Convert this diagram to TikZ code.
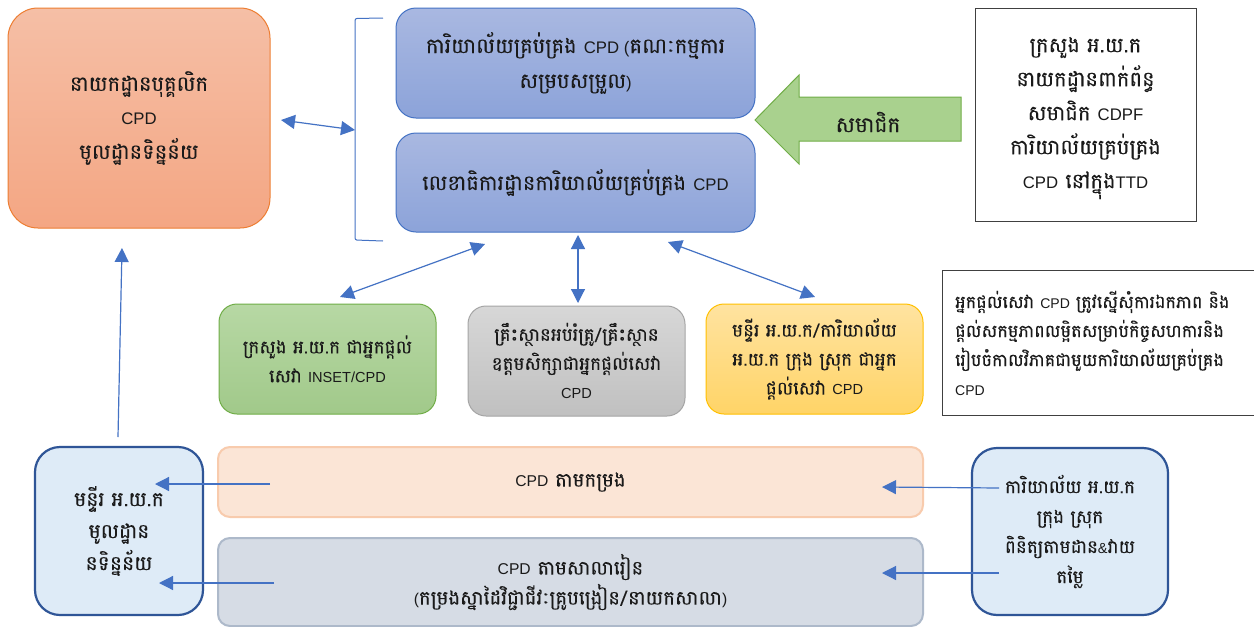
\documentclass[tikz,border=0pt]{standalone}
\usepackage{fontspec}
\setmainfont{Liberation Sans}
\newfontfamily\kh[Script=Khmer,Scale=1.36,FakeBold=0.2]{Battambang}
\newfontfamily\latinfont[Scale=1.08]{Liberation Sans}
\newcommand\La[1]{{\latinfont #1}}
\usetikzlibrary{arrows.meta}
\definecolor{ablue}{HTML}{4472C4}
\definecolor{dblue}{HTML}{2F5597}
\definecolor{lblue}{HTML}{DEEBF7}
\definecolor{orgT}{HTML}{F5BFA6}
\definecolor{orgB}{HTML}{F4A683}
\definecolor{orgD}{HTML}{ED7D31}
\definecolor{bluT}{HTML}{A9B8E1}
\definecolor{bluB}{HTML}{8CA3D9}
\definecolor{grnT}{HTML}{B7D8A4}
\definecolor{grnB}{HTML}{A1C98A}
\definecolor{grnD}{HTML}{70AD47}
\definecolor{gryT}{HTML}{D7D7D7}
\definecolor{gryB}{HTML}{C0C0C0}
\definecolor{gryD}{HTML}{A5A5A5}
\definecolor{ylwT}{HTML}{FFE3A0}
\definecolor{ylwB}{HTML}{FFD467}
\definecolor{ylwD}{HTML}{FFC000}
\definecolor{arrG}{HTML}{A9D18E}
\definecolor{bar1}{HTML}{FBE5D6}
\definecolor{bar1D}{HTML}{F8CBAD}
\definecolor{bar2}{HTML}{D6DCE5}
\definecolor{bar2D}{HTML}{ADB9CA}
\definecolor{txt}{HTML}{1A1A1A}
\tikzset{
  base/.style={align=center, inner sep=0pt, text=txt},
  orangebox/.style={base, rounded corners=30pt, draw=orgD, line width=1pt, top color=orgT, bottom color=orgB, minimum width=262pt, minimum height=220pt, font=\kh\fontsize{15.5}{34}\selectfont},
  bluebox/.style={base, rounded corners=20pt, draw=ablue, line width=1pt, top color=bluT, bottom color=bluB, minimum width=359pt, font=\kh\fontsize{15.5}{35}\selectfont},
  midbox/.style={base, rounded corners=18pt, line width=1pt, minimum width=217pt, minimum height=110pt, font=\kh\fontsize{13.5}{29}\selectfont},
  plainbox/.style={base, draw=black!75, line width=0.8pt, fill=white},
  lbbox/.style={base, rounded corners=25pt, draw=dblue, line width=2.2pt, fill=lblue, font=\kh\fontsize{15}{32}\selectfont},
  barbox/.style={base, rounded corners=12pt, line width=2pt, minimum width=705pt, font=\kh\fontsize{14.5}{30}\selectfont},
  arr/.style={draw=ablue, line width=1.2pt, -{Triangle[length=14pt,width=14pt]}},
  darr/.style={draw=ablue, line width=1.2pt, {Triangle[length=14pt,width=14pt]}-{Triangle[length=14pt,width=14pt]}},
}
\begin{document}
\begin{tikzpicture}[x=1pt,y=-1pt]
\useasboundingbox (0,0) rectangle (1254,627);
\fill[white] (0,0) rectangle (1254,627);

% top left
\node[orangebox] (hr) at (139,118) {នាយកដ្ឋានបុគ្គលិក\\\La{CPD}\\មូលដ្ឋានទិន្នន័យ};

% top blue boxes
\node[bluebox, minimum height=110pt] (office) at (575.5,63) {ការិយាល័យគ្រប់គ្រង \La{CPD (}គណៈកម្មការ\\សម្របសម្រួល\La{)}};
\node[bluebox, minimum height=99pt] (secr) at (575.5,182.5) {លេខាធិការដ្ឋានការិយាល័យគ្រប់គ្រង \La{CPD}};

% bracket
\coordinate (brT) at (383,18);
\coordinate (brB) at (383,241);
\coordinate (brM) at (355,130);
\coordinate (hrE) at (281,120);
\draw[ablue, line width=1pt, rounded corners=2pt] (brT) -- (355,18.5) -- (355,240) -- (brB);
\draw[darr] (hrE) -- (brM);

% green block arrow
\filldraw[fill=arrG, draw=grnD, line width=1pt] (755,120) -- (799,75) -- (799,97) -- (961,97) -- (961,141) -- (799,141) -- (799,164) -- cycle;
\node[base, font=\kh\fontsize{16}{20}\selectfont] (memb) at (868,122) {សមាជិក};

% top right box
\node[plainbox, minimum width=221pt, minimum height=213pt] (ttd) at (1085.5,115) {};
\node[base, font=\kh\fontsize{15.5}{34}\selectfont] (ttdtxt) at (1085.5,118) {ក្រសួង អ.យ.ក\\នាយកដ្ឋានពាក់ព័ន្ធ\\សមាជិក \La{CDPF}\\ការិយាល័យគ្រប់គ្រង\\\La{CPD} នៅក្នុង\La{TTD}};

% middle boxes
\node[midbox, draw=grnD, top color=grnT, bottom color=grnB] (moe) at (327.5,359) {ក្រសួង អ.យ.ក ជាអ្នកផ្តល់\\សេវា \La{INSET/CPD}};
\node[midbox, draw=gryD, top color=gryT, bottom color=gryB] (tti) at (576.5,361) {គ្រឹះស្ថានអប់រំគ្រូ/គ្រឹះស្ថាន\\ឧត្តមសិក្សាជាអ្នកផ្តល់សេវា\\\La{CPD}};
\node[midbox, draw=ylwD, top color=ylwT, bottom color=ylwB] (poe) at (814.5,359) {មន្ទីរ អ.យ.ក/ការិយាល័យ\\អ.យ.ក ក្រុង ស្រុក ជាអ្នក\\ផ្តល់សេវា \La{CPD}};

\coordinate (s1) at (485,244);
\coordinate (e1) at (340,297);
\coordinate (s2) at (578,235);
\coordinate (e2) at (578,303);
\coordinate (s3) at (668,242);
\coordinate (e3) at (815,297);
\draw[darr] (s1) -- (e1);
\draw[darr] (s2) -- (e2);
\draw[darr] (s3) -- (e3);

% note box
\node[plainbox, anchor=north west, minimum width=320pt, minimum height=145pt] (note) at (942,270) {};
\node[base, align=left, anchor=west, font=\kh\fontsize{13}{29}\selectfont] (notetxt) at (955,343) {អ្នកផ្តល់សេវា \La{CPD} ត្រូវស្នើសុំការឯកភាព និង\\ផ្តល់សកម្មភាពលម្អិតសម្រាប់កិច្ចសហការនិង\\រៀបចំកាលវិភាគជាមួយការិយាល័យគ្រប់គ្រង\\\La{CPD}};

% bottom
\node[lbbox, minimum width=168pt, minimum height=168pt] (lpoe) at (119,531) {មន្ទីរ អ.យ.ក\\មូលដ្ឋាន\\នទិន្នន័យ};
\node[lbbox, minimum width=196pt, minimum height=167pt, font=\kh\fontsize{13.5}{30}\selectfont] (doe) at (1070,531.5) {ការិយាល័យ អ.យ.ក\\ក្រុង ស្រុក\\ពិនិត្យតាមដាន\La{\&}វាយ\\តម្លៃ};
\node[barbox, draw=bar1D, fill=bar1, minimum height=70pt] (cl) at (570.5,482) {\La{CPD} តាមកម្រង};
\node[barbox, draw=bar2D, fill=bar2, minimum height=88pt] (sch) at (570.5,582) {\La{CPD} តាមសាលារៀន\\\La{(}កម្រងស្នាដៃវិជ្ជាជីវៈគ្រូបង្រៀន/នាយកសាលា\La{)}};

\coordinate (up0) at (118,437);
\coordinate (up1) at (122,248);
\draw[arr] (up0) -- (up1);
\coordinate (a1s) at (270,484);
\coordinate (a1e) at (155,484);
\coordinate (a2s) at (274,583);
\coordinate (a2e) at (159,583);
\draw[arr] (a1s) -- (a1e);
\draw[arr] (a2s) -- (a2e);
\coordinate (b1s) at (999,488);
\coordinate (b1e) at (882,487);
\coordinate (b2s) at (999,573);
\coordinate (b2e) at (882,573);
\draw[arr] (b1s) -- (b1e);
\draw[arr] (b2s) -- (b2e);
\end{tikzpicture}
\end{document}
